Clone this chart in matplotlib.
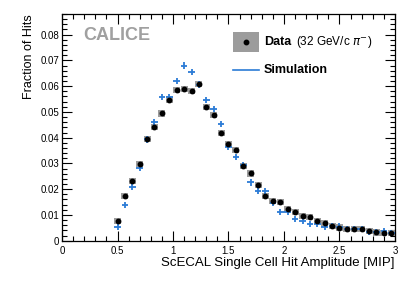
import matplotlib
matplotlib.use("Agg")
import matplotlib.pyplot as plt
from matplotlib.patches import Rectangle
from matplotlib.ticker import MultipleLocator, FixedLocator
import numpy as np

plt.rcParams['font.family'] = ['Liberation Sans', 'DejaVu Sans']

bin_centers = [0.500, 0.567, 0.633, 0.700, 0.767, 0.833, 0.900, 0.967, 1.033, 1.100,
               1.167, 1.233, 1.300, 1.367, 1.433, 1.500, 1.567, 1.633, 1.700, 1.767,
               1.833, 1.900, 1.967, 2.033, 2.100, 2.167, 2.233, 2.300, 2.367, 2.433,
               2.500, 2.567, 2.633, 2.700, 2.767, 2.833, 2.900, 2.967]
data_vals = [0.0076, 0.0172, 0.0233, 0.0297, 0.0394, 0.0440, 0.0494, 0.0548, 0.0584, 0.0590,
             0.0582, 0.0608, 0.0520, 0.0487, 0.0419, 0.0374, 0.0352, 0.0291, 0.0261, 0.0216,
             0.0172, 0.0155, 0.0149, 0.0123, 0.0112, 0.0096, 0.0093, 0.0078, 0.0067, 0.0058,
             0.0051, 0.0044, 0.0046, 0.0044, 0.0037, 0.0032, 0.0031, 0.0031]
data_err = [0.0012] * 38
sim_vals = [0.0053, 0.0138, 0.0209, 0.0284, 0.0393, 0.0461, 0.0558, 0.0558, 0.0621, 0.0680,
            0.0656, 0.0606, 0.0545, 0.0510, 0.0452, 0.0364, 0.0325, 0.0292, 0.0226, 0.0194,
            0.0191, 0.0145, 0.0110, 0.0110, 0.0085, 0.0076, 0.0065, 0.0066, 0.0052, 0.0057,
            0.0055, 0.0044, 0.0046, 0.0044, 0.0035, 0.0035, 0.0038, 0.0031]
sim_err = [0.0012] * 38
bin_width = 1.0 / 15

x_ticks = [0, 0.5, 1, 1.5, 2, 2.5, 3]
x_ticklabels = ["0", "0.5", "1", "1.5", "2", "2.5", "3"]
y_ticks = [0, 0.01, 0.02, 0.03, 0.04, 0.05, 0.06, 0.07, 0.08]
y_ticklabels = ["0", "0.01", "0.02", "0.03", "0.04", "0.05", "0.06", "0.07", "0.08"]

GRAY = "#9c9c9c"
BLUE = "#2b7bd6"

fig = plt.figure(figsize=(4.15, 2.81), dpi=100)
ax = fig.add_axes([0.1494, 0.1434, 0.8024, 0.8068])
ax.set_xlim(0, 3)
ax.set_ylim(0, 0.088)

# data boxes
hw = bin_width * 0.48
for xc, v, e in zip(bin_centers, data_vals, data_err):
    ax.add_patch(Rectangle((xc - hw, v - e), 2 * hw, 2 * e, facecolor=GRAY,
                           edgecolor='none', zorder=2))
# simulation crosses
ax.errorbar(bin_centers, sim_vals, xerr=bin_width * 0.45, yerr=sim_err, fmt='none',
            ecolor=BLUE, elinewidth=1.3, capsize=0, zorder=3)
# data dots
ax.plot(bin_centers, data_vals, 'o', color='black', markersize=3.2, zorder=4)

ax.xaxis.set_major_locator(FixedLocator(x_ticks))
ax.set_xticklabels(x_ticklabels)
ax.yaxis.set_major_locator(FixedLocator(y_ticks))
ax.set_yticklabels(y_ticklabels)
ax.xaxis.set_minor_locator(MultipleLocator(0.1))
ax.yaxis.set_minor_locator(MultipleLocator(0.002))
ax.tick_params(which='both', direction='in', top=True, right=True, labelsize=7, width=0.8)
ax.tick_params(which='major', length=7)
ax.tick_params(axis='x', which='major', pad=3.5)
ax.tick_params(axis='y', which='major', pad=2)
ax.tick_params(which='minor', length=3.5)
for s in ax.spines.values():
    s.set_linewidth(0.9)

ax.set_xlabel("ScECAL Single Cell Hit Amplitude [MIP]", fontsize=9.5, loc='right', labelpad=1)
ax.set_ylabel("Fraction of Hits", fontsize=9, loc='top', labelpad=4)

ax.text(0.063, 0.905, "CALICE", transform=ax.transAxes, fontsize=13, fontweight='bold',
        color="#a0a0a0", va='center', ha='left')

# legend
ax.add_patch(Rectangle((0.514, 0.832), 0.078, 0.089, transform=ax.transAxes,
                       facecolor=GRAY, edgecolor='none', zorder=5))
ax.plot([0.553], [0.8765], 'o', color='black', markersize=3.2, transform=ax.transAxes, zorder=6)
ax.text(0.607, 0.876, "Data", transform=ax.transAxes, fontsize=9, fontweight='bold',
        va='center', ha='left')
ax.text(0.703, 0.876, r"(32 GeV/c $\pi^{-}$)", transform=ax.transAxes, fontsize=8.5,
        va='center', ha='left')
ax.plot([0.514, 0.592], [0.753, 0.753], color=BLUE, lw=1.2, transform=ax.transAxes)
ax.text(0.607, 0.753, "Simulation", transform=ax.transAxes, fontsize=9, fontweight='bold',
        va='center', ha='left')

fig.savefig("out.png", dpi=100)
